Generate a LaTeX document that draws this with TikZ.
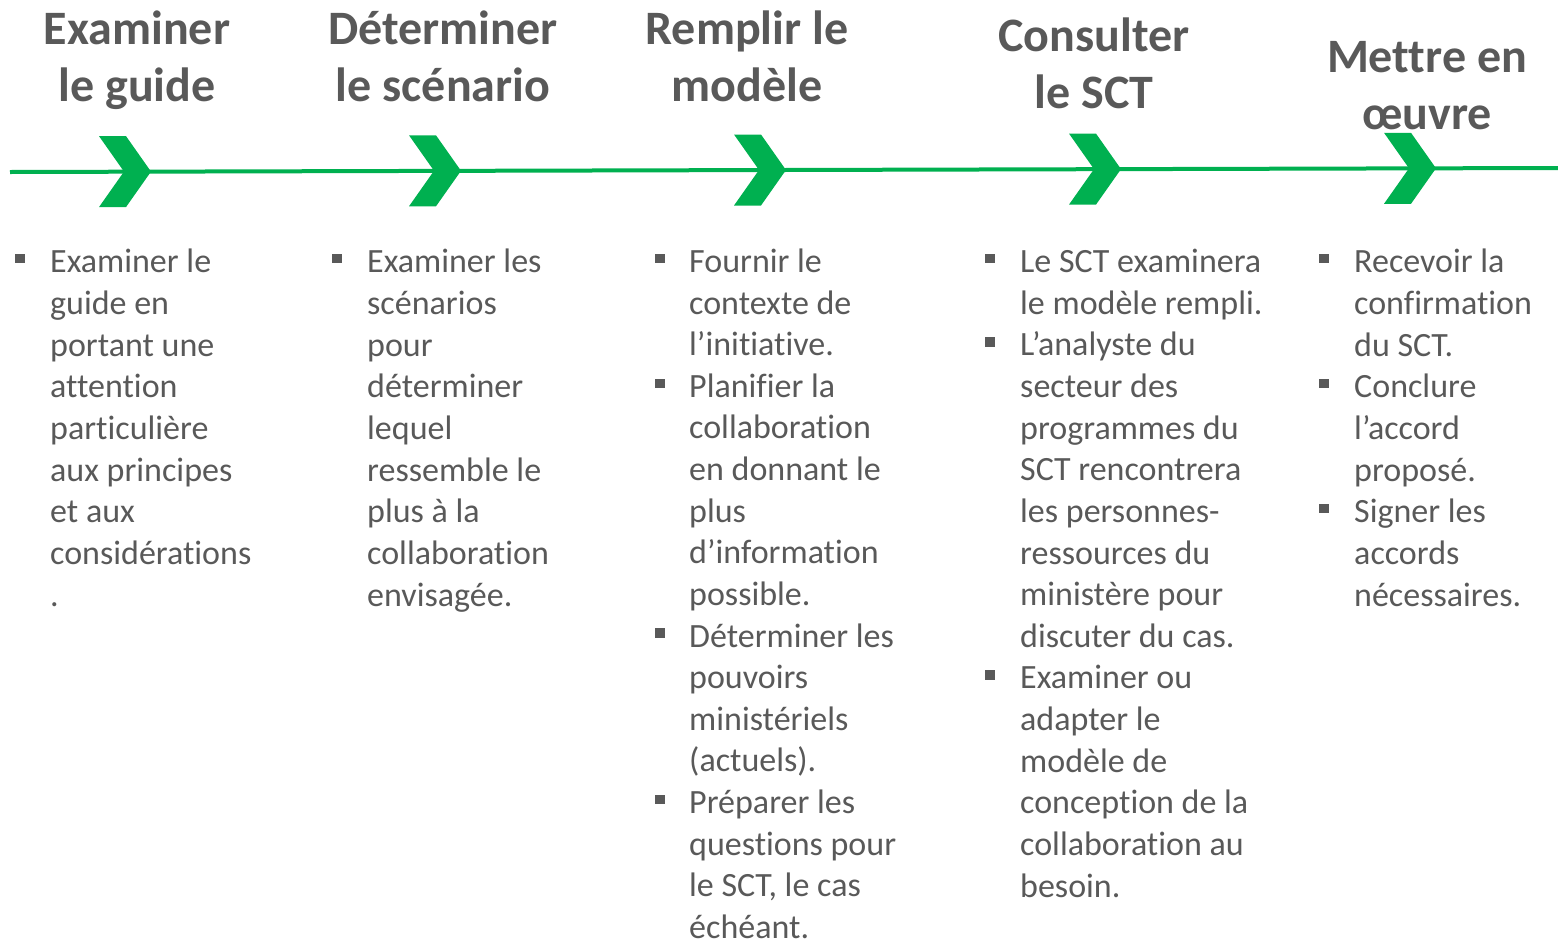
\documentclass[tikz,border=0pt]{standalone}
\usepackage{fontspec}
\setmainfont{Carlito}[Ligatures=NoCommon]
\definecolor{textgray}{HTML}{595959}
\definecolor{stepgreen}{HTML}{00B050}
\tikzset{
  title/.style={text=textgray, font=\fontsize{48}{57}\selectfont\bfseries, align=center, anchor=base, inner sep=0pt},
  body/.style={text=textgray, font=\fontsize{34}{41.63}\selectfont, align=left, anchor=base west, inner sep=0pt},
  bullet/.style={fill=textgray, rectangle, minimum size=9.5pt, inner sep=0pt},
  timeline/.style={draw=stepgreen, line width=4pt},
  chevron/.pic={\fill[stepgreen] (-52,-35.5) -- (-25,-35.5) -- (0,0) -- (-25,35.5) -- (-52,35.5) -- (-27,0) -- cycle;}
}
\begin{document}
\begin{tikzpicture}[x=1pt, y=-1pt]
\useasboundingbox (0,0) rectangle (1558,940);

% timeline
\coordinate (tstart) at (10,172);
\coordinate (tend) at (1558,168);
\draw[timeline] (tstart) -- (tend);

% stage markers
\coordinate (s1) at (151,171.6);
\coordinate (s2) at (461,170.8);
\coordinate (s3) at (786,170.0);
\coordinate (s4) at (1121,169.1);
\coordinate (s5) at (1436,168.3);
\foreach \s in {s1,s2,s3,s4,s5} \pic at (\s) {chevron};

% stage titles (placed by the baseline of their last line)
\node[title] (t1) at (137,101) {Examiner\\le guide};
\node[title] (t2) at (443,101) {Déterminer\\le scénario};
\node[title] (t3) at (747,101) {Remplir le\\modèle};
\node[title] (t4) at (1094,108) {Consulter\\le SCT};
\node[title] (t5) at (1427,129) {Mettre en\\œuvre};

% column 1 (placed by the baseline of the last line)
\node[bullet] (b1a) at (20,258.5) {};
\node[body] (c1) at (50,606.0) {Examiner le\\guide en\\portant une\\attention\\particulière\\aux principes\\et aux\\considérations\\.};

% column 2
\node[bullet] (b2a) at (337,258.5) {};
\node[body] (c2) at (367,606.0) {Examiner les\\scénarios\\pour\\déterminer\\lequel\\ressemble le\\plus à la\\collaboration\\envisagée.};

% column 3
\node[bullet] (b3a) at (660,258.5) {};
\node[bullet] (b3b) at (660,383.4) {};
\node[bullet] (b3c) at (660,633.2) {};
\node[bullet] (b3d) at (660,799.7) {};
\node[body] (c3) at (689,938.5) {Fournir le\\contexte de\\l’initiative.\\Planifier la\\collaboration\\en donnant le\\plus\\d’information\\possible.\\Déterminer les\\pouvoirs\\ministériels\\(actuels).\\Préparer les\\questions pour\\le SCT, le cas\\échéant.};

% column 4
\node[bullet] (b4a) at (990,258.5) {};
\node[bullet] (b4b) at (990,341.8) {};
\node[bullet] (b4c) at (990,674.8) {};
\node[body] (c4) at (1020,897.1) {Le SCT examinera\\le modèle rempli.\\L’analyste du\\secteur des\\programmes du\\SCT rencontrera\\les personnes-\\ressources du\\ministère pour\\discuter du cas.\\Examiner ou\\adapter le\\modèle de\\conception de la\\collaboration au\\besoin.};

% column 5
\node[bullet] (b5a) at (1324,258.5) {};
\node[bullet] (b5b) at (1324,383.4) {};
\node[bullet] (b5c) at (1324,508.3) {};
\node[body] (c5) at (1354,606.0) {Recevoir la\\confirmation\\du SCT.\\Conclure\\l’accord\\proposé.\\Signer les\\accords\\nécessaires.};
\end{tikzpicture}
\end{document}
